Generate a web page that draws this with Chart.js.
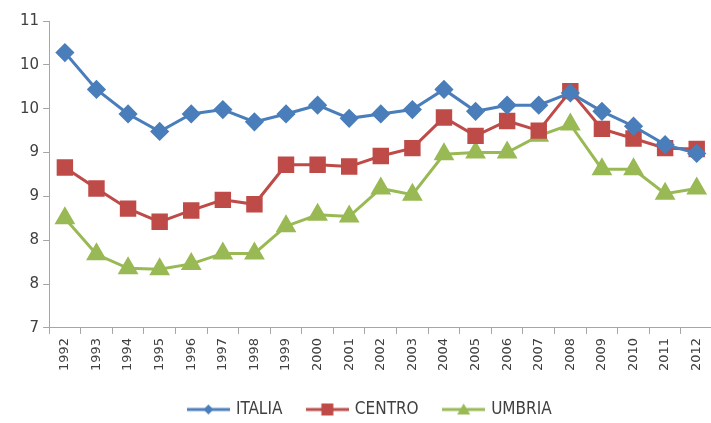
<!DOCTYPE html>
<html>
<head>
<meta charset="utf-8">
<style>
  body { margin: 0; background: #fff; overflow: hidden; }
  #wrap { position: absolute; left: 9px; top: 0; }
</style>
<script src="https://cdn.jsdelivr.net/npm/chart.js@4"></script>
</head>
<body>
<div id="wrap"><canvas id="chart" width="716" height="423"></canvas></div>
<script>
// data
const years = ["1992", "1993", "1994", "1995", "1996", "1997", "1998", "1999", "2000", "2001", "2002",
  "2003", "2004", "2005", "2006", "2007", "2008", "2009", "2010", "2011", "2012"];
const italia = [10.14, 9.72, 9.44, 9.24, 9.44, 9.49, 9.35, 9.44, 9.54, 9.39, 9.44,
  9.49, 9.72, 9.47, 9.54, 9.54, 9.68, 9.47, 9.30, 9.09, 8.99];
const centro = [8.83, 8.59, 8.36, 8.21, 8.34, 8.46, 8.41, 8.86, 8.86, 8.84, 8.96,
  9.05, 9.40, 9.19, 9.36, 9.25, 9.70, 9.27, 9.16, 9.05, 9.04];
const umbria = [8.25, 7.84, 7.68, 7.67, 7.73, 7.85, 7.85, 8.16, 8.29, 8.27, 8.59,
  8.52, 8.98, 9.00, 9.00, 9.19, 9.32, 8.81, 8.81, 8.53, 8.59];
// axis labels as printed (rounded to whole numbers in the original)
const yTickLabels = ["7", "8", "8", "9", "9", "10", "10", "11"];

const BLUE = "#4a7ebb";
const RED = "#be4b48";
const GREEN = "#98b954";

// legend symbol: line with marker in the middle
function legendIcon(color, style) {
  const c = document.createElement("canvas");
  c.width = 43;
  c.height = 14;
  const g = c.getContext("2d");
  g.strokeStyle = color;
  g.fillStyle = color;
  g.lineWidth = 3;
  g.beginPath();
  g.moveTo(0, 7);
  g.lineTo(43, 7);
  g.stroke();
  g.beginPath();
  if (style === "rectRot") {
    g.moveTo(21.5, 2); g.lineTo(26.5, 7); g.lineTo(21.5, 12); g.lineTo(16.5, 7);
  } else if (style === "rect") {
    g.rect(15.5, 1, 12, 12);
  } else {
    g.moveTo(21.5, 1); g.lineTo(28, 12); g.lineTo(15, 12);
  }
  g.closePath();
  g.fill();
  return c;
}

const ctx = document.getElementById("chart");

new Chart(ctx, {
  type: "line",
  data: {
    labels: years,
    datasets: [
      {
        label: "ITALIA",
        data: italia,
        borderColor: BLUE,
        backgroundColor: BLUE,
        borderWidth: 3,
        pointStyle: "rectRot",
        pointRadius: 7.5,
        tension: 0,
      },
      {
        label: "CENTRO",
        data: centro,
        borderColor: RED,
        backgroundColor: RED,
        borderWidth: 3,
        pointStyle: "rect",
        pointRadius: 9.5,
        tension: 0,
      },
      {
        label: "UMBRIA",
        data: umbria,
        borderColor: GREEN,
        backgroundColor: GREEN,
        borderWidth: 3,
        pointStyle: "triangle",
        pointRadius: 9,
        tension: 0,
      },
    ],
  },
  options: {
    responsive: false,
    animation: false,
    layout: { padding: { left: 7, top: 21, right: 0, bottom: -5 } },
    scales: {
      x: {
        offset: true,
        grid: {
          offset: true,
          drawOnChartArea: false,
          tickLength: 6,
          color: "#a6a6a6",
        },
        border: { color: "#a6a6a6" },
        ticks: {
          minRotation: 90,
          maxRotation: 90,
          autoSkip: false,
          color: "#404040",
          font: { family: "'DejaVu Sans'", size: 13 },
          padding: 4,
        },
      },
      y: {
        min: 7,
        max: 10.5,
        grid: {
          drawOnChartArea: false,
          tickLength: 6,
          color: "#a6a6a6",
        },
        border: { color: "#a6a6a6" },
        ticks: {
          stepSize: 0.5,
          color: "#404040",
          font: { family: "'DejaVu Sans'", size: 15 },
          padding: 4,
          callback: function (value, index) {
            return yTickLabels[index];
          },
        },
      },
    },
    plugins: {
      legend: {
        position: "bottom",
        labels: {
          usePointStyle: true,
          pointStyleWidth: 38,
          color: "#404040",
          font: { family: "'Liberation Sans Narrow', 'DejaVu Sans Condensed', 'DejaVu Sans'", size: 17 },
          padding: 26,
          generateLabels: function (chart) {
            return chart.data.datasets.map((ds, i) => ({
              text: ds.label,
              fillStyle: ds.backgroundColor,
              strokeStyle: ds.borderColor,
              pointStyle: legendIcon(ds.borderColor, ds.pointStyle),
              fontColor: "#404040",
              lineWidth: 0,
              hidden: false,
              datasetIndex: i,
            }));
          },
        },
      },
      tooltip: { enabled: false },
    },
  },
});
</script>
</body>
</html>
